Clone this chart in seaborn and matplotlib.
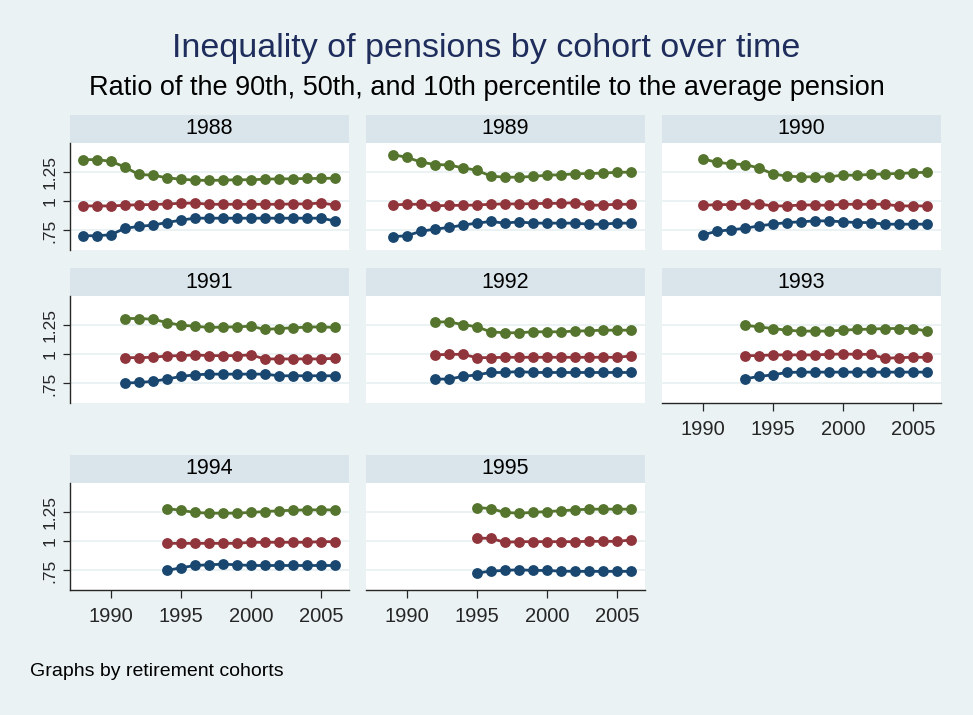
import numpy as np
import pandas as pd
import matplotlib.pyplot as plt
import seaborn as sns

# retirement cohorts, each observed from its first year up to 2006
cohorts = [1988, 1989, 1990, 1991, 1992, 1993, 1994, 1995]
last_year = 2006

# ratio of the 90th percentile to the average pension
p90 = {
    1988: [1.351, 1.351, 1.337, 1.289, 1.225, 1.219, 1.197, 1.185, 1.177, 1.174,
           1.177, 1.180, 1.180, 1.185, 1.188, 1.188, 1.191, 1.191, 1.194],
    1989: [1.393, 1.371, 1.331, 1.309, 1.306, 1.281, 1.261, 1.211, 1.202, 1.202,
           1.208, 1.219, 1.222, 1.230, 1.233, 1.236, 1.244, 1.244],
    1990: [1.357, 1.329, 1.315, 1.309, 1.281, 1.230, 1.211, 1.205, 1.205, 1.205,
           1.219, 1.219, 1.225, 1.230, 1.233, 1.239, 1.244],
    1991: [1.301, 1.301, 1.295, 1.267, 1.244, 1.236, 1.225, 1.228, 1.230, 1.236,
           1.208, 1.216, 1.222, 1.228, 1.230, 1.225],
    1992: [1.272, 1.272, 1.250, 1.230, 1.188, 1.180, 1.180, 1.188, 1.188, 1.188,
           1.194, 1.197, 1.202, 1.202, 1.202],
    1993: [1.244, 1.230, 1.216, 1.202, 1.194, 1.194, 1.194, 1.202, 1.208, 1.211,
           1.216, 1.216, 1.216, 1.194],
    1994: [1.275, 1.261, 1.242, 1.236, 1.236, 1.236, 1.242, 1.250, 1.256, 1.261,
           1.264, 1.264, 1.264],
    1995: [1.284, 1.275, 1.242, 1.236, 1.242, 1.250, 1.256, 1.264, 1.270, 1.270,
           1.270, 1.270, 1.275],
}

# ratio of the median to the average pension
p50 = {
    1988: [0.958, 0.958, 0.958, 0.963, 0.969, 0.969, 0.975, 0.980, 0.983, 0.972,
           0.972, 0.972, 0.972, 0.972, 0.972, 0.975, 0.975, 0.983, 0.966],
    1989: [0.966, 0.972, 0.972, 0.958, 0.963, 0.963, 0.966, 0.972, 0.975, 0.975,
           0.977, 0.980, 0.980, 0.986, 0.963, 0.966, 0.972, 0.972],
    1990: [0.963, 0.969, 0.969, 0.975, 0.975, 0.958, 0.958, 0.966, 0.966, 0.963,
           0.972, 0.972, 0.972, 0.972, 0.958, 0.958, 0.958],
    1991: [0.969, 0.969, 0.972, 0.983, 0.986, 0.992, 0.986, 0.986, 0.986, 0.992,
           0.958, 0.958, 0.958, 0.958, 0.958, 0.963],
    1992: [0.992, 0.997, 0.997, 0.969, 0.969, 0.972, 0.972, 0.972, 0.972, 0.972,
           0.972, 0.972, 0.972, 0.972, 0.983],
    1993: [0.986, 0.986, 0.992, 0.992, 0.992, 0.992, 0.997, 1.000, 0.997, 0.997,
           0.963, 0.969, 0.972, 0.972],
    1994: [0.980, 0.980, 0.980, 0.980, 0.980, 0.980, 0.989, 0.989, 0.989, 0.989,
           0.989, 0.994, 0.994],
    1995: [1.025, 1.022, 0.989, 0.994, 0.994, 0.994, 0.994, 0.994, 0.997, 0.997,
           0.997, 1.008],
}

# ratio of the 10th percentile to the average pension
p10 = {
    1988: [0.705, 0.705, 0.713, 0.767, 0.784, 0.795, 0.817, 0.837, 0.854, 0.854,
           0.854, 0.854, 0.854, 0.854, 0.854, 0.854, 0.854, 0.854, 0.831],
    1989: [0.697, 0.705, 0.742, 0.761, 0.775, 0.795, 0.812, 0.826, 0.812, 0.823,
           0.812, 0.812, 0.812, 0.812, 0.803, 0.803, 0.812, 0.812],
    1990: [0.713, 0.742, 0.756, 0.767, 0.789, 0.803, 0.817, 0.823, 0.831, 0.831,
           0.823, 0.817, 0.817, 0.803, 0.803, 0.803, 0.803],
    1991: [0.753, 0.758, 0.767, 0.787, 0.809, 0.823, 0.829, 0.829, 0.829, 0.829,
           0.829, 0.815, 0.815, 0.815, 0.815, 0.815],
    1992: [0.787, 0.787, 0.809, 0.823, 0.843, 0.843, 0.851, 0.843, 0.843, 0.843,
           0.843, 0.843, 0.843, 0.843, 0.843],
    1993: [0.789, 0.809, 0.823, 0.843, 0.846, 0.846, 0.846, 0.846, 0.846, 0.846,
           0.846, 0.846, 0.846, 0.846],
    1994: [0.750, 0.772, 0.792, 0.798, 0.803, 0.798, 0.792, 0.792, 0.792, 0.792,
           0.792, 0.792, 0.792],
    1995: [0.728, 0.744, 0.750, 0.756, 0.750, 0.750, 0.744, 0.742, 0.742, 0.742,
           0.742, 0.742],
}

ytick_vals = [0.75, 1.0, 1.25]
ytick_labels = ['.75', '1', '1.25']
xtick_vals = [1990, 1995, 2000, 2005]

rows = []
for c in cohorts:
    years = range(c, last_year + 1)
    for pct, d in [('p90', p90), ('p50', p50), ('p10', p10)]:
        for yr, v in zip(years, d[c]):
            rows.append({'cohort': c, 'year': yr, 'pct': pct, 'ratio': v})
df = pd.DataFrame(rows)

bg = '#EAF2F3'
strip_col = '#D9E5EB'
palette = {'p10': '#1a476f', 'p50': '#90353b', 'p90': '#55752f'}

sns.set_style('white')
plt.rcParams['font.family'] = ['Liberation Sans', 'DejaVu Sans']

W, H = 973, 715
fig = plt.figure(figsize=(W / 100, H / 100), dpi=100, facecolor=bg)

# pixel layout of the 3x3 grid (last cell empty)
col_left = [70, 366, 662]
panel_w = 279
row_top = [115, 268, 455]
strip_h = 28
plot_h = 107
bottom_panels = {1993, 1994, 1995}

for i, c in enumerate(cohorts):
    r, k = divmod(i, 3)
    x0 = col_left[k]
    top = row_top[r]
    sax = fig.add_axes([x0 / W, 1 - (top + strip_h) / H, panel_w / W, strip_h / H])
    sax.set_facecolor(strip_col)
    sax.set_xticks([])
    sax.set_yticks([])
    for s in sax.spines.values():
        s.set_visible(False)
    sax.text(0.5, 0.5, str(c), ha='center', va='center', fontsize=15.5,
             color='black', transform=sax.transAxes)

    ax = fig.add_axes([x0 / W, 1 - (top + strip_h + plot_h) / H, panel_w / W, plot_h / H])
    ax.set_facecolor('white')
    sns.lineplot(data=df[df['cohort'] == c], x='year', y='ratio', hue='pct',
                 hue_order=['p90', 'p50', 'p10'], palette=palette, marker='o',
                 markersize=7.8, markeredgewidth=0, linewidth=2.0, legend=False, ax=ax)
    ax.set_xlim(1987.1, 2007.0)
    ax.set_ylim(0.584, 1.492)
    ax.set_yticks(ytick_vals)
    ax.set_yticklabels(ytick_labels)
    ax.set_xticks(xtick_vals)
    ax.set_xlabel('')
    ax.set_ylabel('')
    ax.set_axisbelow(True)
    ax.yaxis.grid(True, color=bg, linewidth=1.4)
    ax.xaxis.grid(False)
    for s in ax.spines.values():
        s.set_visible(False)
    ax.spines['left'].set_visible(k == 0)
    ax.spines['bottom'].set_visible(c in bottom_panels)
    ax.spines['left'].set_linewidth(1.0)
    ax.spines['bottom'].set_linewidth(1.0)
    ax.tick_params(axis='y', left=(k == 0), labelleft=(k == 0), length=5,
                   width=0.9, pad=4, labelsize=12.5)
    ax.tick_params(axis='x', bottom=(c in bottom_panels), labelbottom=(c in bottom_panels),
                   length=6, width=0.9, pad=6, labelsize=14.5)
    plt.setp(ax.get_yticklabels(), rotation=90, va='center')

fig.text(0.5, 1 - 49 / H, 'Inequality of pensions by cohort over time', ha='center',
         va='center', fontsize=24.5, color='#1e2d5c')
fig.text(0.5, 1 - 88 / H, 'Ratio of the 90th, 50th, and 10th percentile to the average pension',
         ha='center', va='center', fontsize=19.5, color='black')
fig.text(30 / W, 1 - 672 / H, 'Graphs by retirement cohorts', ha='left', va='center',
         fontsize=14, color='black')

fig.savefig('out.png', dpi=100, facecolor=bg)
